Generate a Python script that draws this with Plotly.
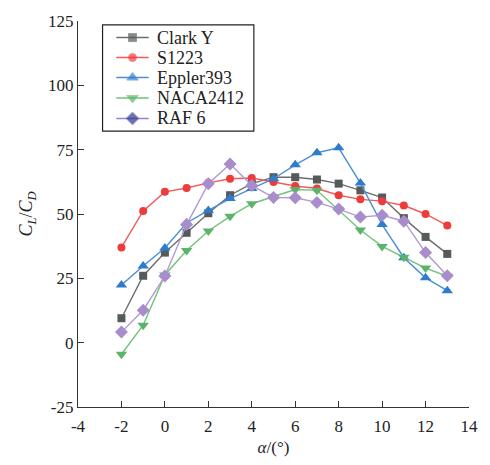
import plotly.graph_objects as go

# Angle of attack (degrees)
alpha = [-2, -1, 0, 1, 2, 3, 4, 5, 6, 7, 8, 9, 10, 11, 12, 13]

# Lift-to-drag ratio C_L/C_D for each airfoil
clark_y = [9.5, 26.0, 35.0, 42.7, 50.3, 57.3, 61.8, 64.3, 64.3, 63.4, 61.8, 59.2, 56.4, 48.4, 41.1, 34.5]
s1223 = [37.0, 51.2, 58.6, 60.1, 62.1, 63.7, 64.0, 62.4, 60.9, 59.9, 57.3, 55.7, 55.0, 53.3, 50.0, 45.5]
eppler393 = [22.4, 29.8, 36.8, 46.5, 51.4, 56.0, 59.9, 63.7, 69.1, 73.8, 75.7, 62.0, 45.9, 33.0, 25.2, 20.2]
naca2412 = [-4.5, 6.8, 26.3, 35.8, 43.4, 49.1, 54.0, 56.7, 59.5, 59.2, 51.6, 43.8, 37.4, 33.2, 29.0, 25.8]
raf6 = [4.1, 12.6, 25.9, 45.9, 61.8, 69.4, 61.1, 56.4, 56.3, 54.5, 51.9, 48.8, 49.5, 47.2, 35.0, 26.0]

names = ["Clark Y", "S1223", "Eppler393", "NACA2412", "RAF 6"]

x_ticks = [-4, -2, 0, 2, 4, 6, 8, 10, 12, 14]
y_ticks = [-25, 0, 25, 50, 75, 100, 125]

FONT = "Liberation Serif"
TXT = "#222222"

# (values, line colour, marker colour, symbol, size, legend marker colour)
styles = [
    (clark_y, "#6b6e6e", "#555a5a", "square", 8, "#555a5a"),
    (s1223, "#f25a5a", "#ee3b3b", "circle", 8, "#ee3b3b"),
    (eppler393, "#4a8fd6", "#2f7ccc", "triangle-up", 10, "#2f7ccc"),
    (naca2412, "#72c27c", "#5cb46a", "triangle-down", 10, "#5cb46a"),
    (raf6, "#b19ad3", "#a98ccc", "diamond", 10, "#2b3990"),
]

fig = go.Figure()
for name, (ys, lc, mc, sym, sz, _) in zip(names, styles):
    fig.add_trace(go.Scatter(
        x=alpha, y=ys, name=name, mode="lines+markers", showlegend=False,
        line=dict(color=lc, width=1.4),
        marker=dict(symbol=sym, size=sz, color=mc),
    ))

# Legend drawn on an overlay axis pair measured in pixels of the plot area
L, R, T, B = 78, 476, 15, 411
row_y = [32, 52.5, 73, 94, 115]
for name, (ys, lc, mc, sym, sz, legc), yy in zip(names, styles, row_y):
    fig.add_trace(go.Scatter(
        x=[117, 133.5, 150], y=[yy, yy, yy], mode="lines+markers",
        xaxis="x2", yaxis="y2", showlegend=False, hoverinfo="skip",
        line=dict(color=lc if name != "RAF 6" else "#9b7fd0", width=1.4),
        marker=dict(symbol=sym, size=[0, sz, 0], color=legc),
    ))
    fig.add_annotation(
        x=156, y=yy, xref="x2", yref="y2", text=name, showarrow=False,
        xanchor="left", yanchor="middle",
        font=dict(family=FONT, size=18, color=TXT),
    )
fig.add_shape(type="rect", xref="x2", yref="y2", x0=103, x1=257, y0=19, y1=128,
              line=dict(color=TXT, width=1.2), fillcolor="rgba(0,0,0,0)", layer="above")

axis_common = dict(
    showline=True, linecolor="#333333", linewidth=1.3,
    ticks="inside", ticklen=6, tickwidth=1.2, tickcolor="#333333",
    showgrid=False, zeroline=False, mirror=False,
    tickfont=dict(family=FONT, size=17, color=TXT),
)

fig.update_layout(
    width=490, height=465,
    margin=dict(l=L, r=490 - R, t=T, b=465 - B),
    plot_bgcolor="white", paper_bgcolor="white",
    showlegend=False,
    xaxis=dict(range=[-4, 14], tickvals=x_ticks, ticktext=[str(v) for v in x_ticks],
               ticklabelstandoff=3,
               title=dict(text="<i>α</i>/(°)", font=dict(family=FONT, size=17, color=TXT),
                          standoff=6),
               **axis_common),
    yaxis=dict(range=[-25, 125], tickvals=y_ticks, ticktext=[str(v) for v in y_ticks],
               title=dict(text="<i>C<sub>L</sub></i>/<i>C<sub>D</sub></i>",
                          font=dict(family=FONT, size=18, color=TXT), standoff=10),
               **axis_common),
    xaxis2=dict(overlaying="x", range=[L, R], visible=False, fixedrange=True),
    yaxis2=dict(overlaying="y", range=[B, T], visible=False, fixedrange=True),
)

fig.write_html("out.html")
